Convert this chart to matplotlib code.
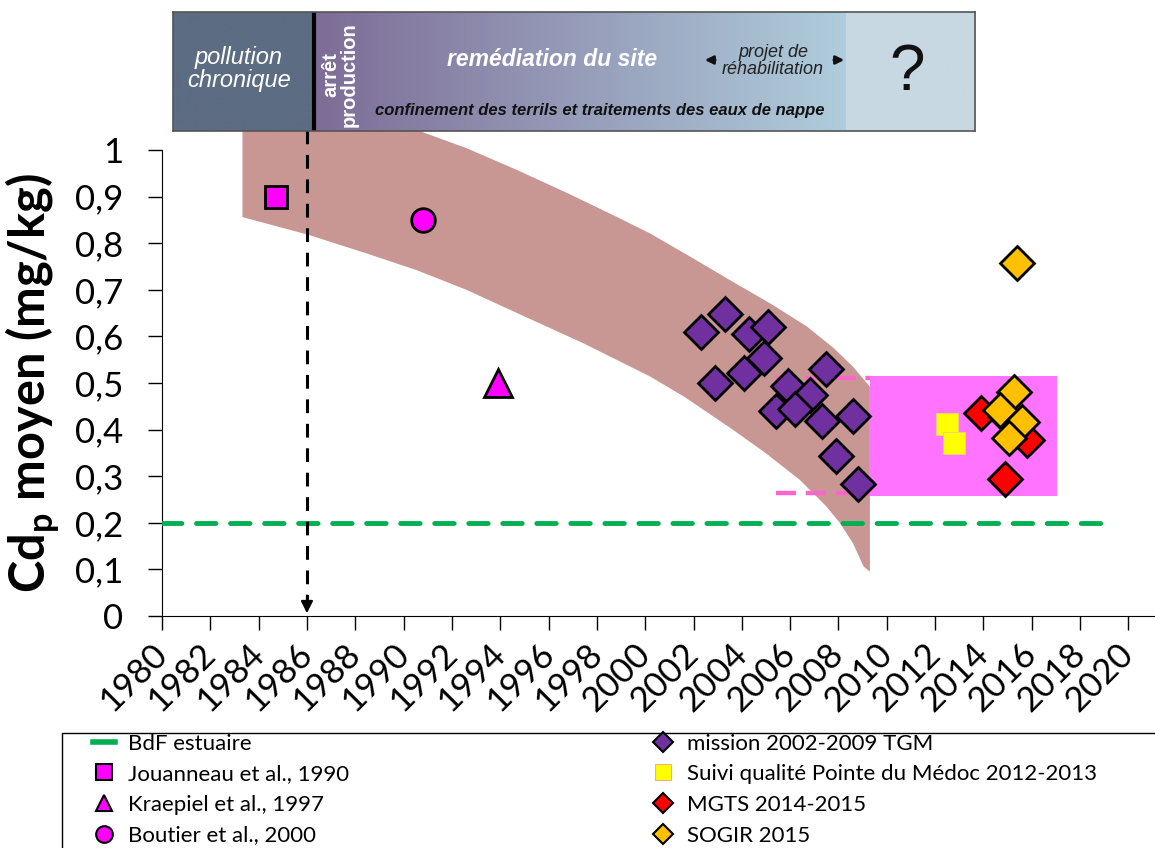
import numpy as np
import matplotlib
matplotlib.use("Agg")
import matplotlib.pyplot as plt
from matplotlib.lines import Line2D
from matplotlib.patches import Rectangle
from matplotlib import font_manager

# Fonts
names = {f.name for f in font_manager.fontManager.ttflist}
body_font = "Lato" if "Lato" in names else "DejaVu Sans"
band_font = "Liberation Sans"
plt.rcParams['font.family'] = [body_font, 'DejaVu Sans']

W, H = 1155, 848

# Data (year, Cd_p mg/kg)
jouanneau_year = [1984.7]
jouanneau_val = [0.90]
kraepiel_year = [1993.9]
kraepiel_val = [0.50]
boutier_year = [1990.8]
boutier_val = [0.85]

mission_year = [2002.3, 2003.3, 2004.3, 2005.1, 2004.9, 2004.1, 2002.9, 2007.5,
                2005.9, 2006.8, 2005.4, 2006.2, 2007.3, 2008.6, 2007.9, 2008.8]
mission_val = [0.61, 0.647, 0.605, 0.621, 0.554, 0.521, 0.50, 0.531,
               0.494, 0.474, 0.44, 0.444, 0.419, 0.429, 0.344, 0.283]

suivi_year = [2012.5, 2012.8]
suivi_val = [0.413, 0.372]

mgts_year = [2013.9, 2015.8, 2014.9]
mgts_val = [0.436, 0.378, 0.295]

sogir_year = [2015.4, 2014.95, 2015.25, 2014.7, 2015.6, 2015.05]
sogir_val = [0.757, 0.428, 0.481, 0.442, 0.417, 0.381]

bdf_level = 0.2
bdf_years = [1980, 2019.2]

arret_year = 1986

# trend band (upper and lower edges)
band_upper_year = [1983.33, 1985.5, 1988.0, 1990.7, 1992.6, 1994.7, 1996.8, 1998.8,
                   2000.2, 2002.0, 2003.5, 2005.2, 2006.7, 2007.8, 2008.6, 2009.3]
band_upper_val = [1.17, 1.135, 1.09, 1.04, 1.004, 0.957, 0.907, 0.857,
                  0.821, 0.767, 0.721, 0.670, 0.621, 0.575, 0.535, 0.492]
band_lower_year = [1983.33, 1986.06, 1988.47, 1990.55, 1992.6, 1994.7, 1997.45, 2000.2,
                   2001.6, 2003.65, 2005.0, 2006.4, 2007.5, 2008.07, 2008.6, 2009.04, 2009.3]
band_lower_val = [0.856, 0.818, 0.778, 0.742, 0.70, 0.65, 0.585, 0.514,
                  0.471, 0.399, 0.349, 0.292, 0.235, 0.199, 0.156, 0.106, 0.095]

# recent range box
range_years = [2009.3, 2017.05]
range_low, range_high = 0.258, 0.516
range_dash_years = [2005.4, 2009.3]
range_dash_vals = [0.51, 0.265]

fig = plt.figure(figsize=(W / 100, H / 100), dpi=100)
ax = fig.add_axes([162 / W, 1 - 616 / H, 1 - 162 / W, 466 / H])

# band
bx = band_upper_year + band_lower_year[::-1]
by = band_upper_val + band_lower_val[::-1]
ax.fill(bx, by, color='#c89794', lw=0, zorder=1, clip_on=False)

# pink range
ax.fill_between(range_years, range_low, range_high, color='#ff73ff', lw=0, zorder=2)
for v in range_dash_vals:
    ax.plot(range_dash_years, [v, v], color='#ff66cc', lw=3.2, dashes=(4.5, 2.2), zorder=2)

# BdF line
ax.plot(bdf_years, [bdf_level, bdf_level], color='#00b050', lw=3.5,
        dashes=(4, 3), dash_capstyle='round', zorder=3)

# arrow at end of production
ax.plot([arret_year, arret_year], [1.043, 0.03], color='black', lw=2.2,
        dashes=(4.5, 3.5), zorder=3, clip_on=False)
ax.annotate('', xy=(arret_year, 0.0), xytext=(arret_year, 0.05),
            arrowprops=dict(arrowstyle='-|>', color='black', lw=1.5, mutation_scale=18),
            zorder=3)

mk = dict(linestyle='none', markeredgecolor='black', markeredgewidth=2, zorder=5)
ax.plot(jouanneau_year, jouanneau_val, marker='s', ms=16, color='#ff00ff', **mk)
ax.plot(boutier_year, boutier_val, marker='o', ms=17, color='#ff00ff', **mk)
ax.plot(kraepiel_year, kraepiel_val, marker='^', ms=20, color='#ff00ff', **mk)
ax.plot(mission_year, mission_val, marker='D', ms=17, color='#7030a0', **mk)
ax.plot(suivi_year, suivi_val, marker='s', ms=16, linestyle='none', color='#ffff00',
        markeredgecolor='#f0d080', markeredgewidth=0.6, zorder=5)
ax.plot(mgts_year, mgts_val, marker='D', ms=17, color='#ff0000', **mk)
ax.plot(sogir_year, sogir_val, marker='D', ms=17, color='#ffc000', **mk)

# axes styling
ax.set_xlim(1980, 2021.1)
ax.set_ylim(0, 1)
ax.set_xticks(range(1980, 2021, 2))
ax.set_yticks(np.arange(0, 1.01, 0.1))
ax.set_yticklabels(['0'] + ['0,%d' % i for i in range(1, 10)] + ['1'])
ax.spines['top'].set_visible(False)
ax.spines['right'].set_visible(False)
ax.tick_params(axis='both', direction='out', length=10, width=1, labelsize=25)
ax.tick_params(axis='y', pad=18)
ax.tick_params(axis='x', pad=14)
for lab in ax.get_xticklabels():
    lab.set_rotation(45)
    lab.set_ha('right')
    lab.set_va('center')
    lab.set_rotation_mode('anchor')
ax.set_ylabel(r'Cd$_\mathregular{p}$ moyen (mg/kg)', fontsize=35, fontweight='bold')
ax.yaxis.set_label_coords(-0.1005, 0.5)

# timeline banner
bax = fig.add_axes([173 / W, 1 - 131 / H, 802 / W, 119 / H])
n = 802
img = np.zeros((1, n, 3))
dark = np.array([92, 108, 130]) / 255
purp = np.array([125, 108, 150]) / 255
blue = np.array([175, 205, 220]) / 255
light = np.array([200, 216, 226]) / 255
line_at = 312 - 173
grad_end = 845 - 173
img[0, :line_at] = dark
t = np.linspace(0, 1, grad_end - line_at)[:, None]
img[0, line_at:grad_end] = purp * (1 - t) + blue * t
img[0, grad_end:] = light
bax.imshow(img, aspect='auto', extent=(0, n, 119, 0))
bax.axvline(line_at + 1.5, color='black', lw=3)
bax.set_xlim(0, n)
bax.set_ylim(119, 0)
bax.set_xticks([])
bax.set_yticks([])
for s in bax.spines.values():
    s.set_color('#555555')
    s.set_linewidth(1.2)

bt = dict(family=[band_font, 'DejaVu Sans'])
bax.text(239 - 173, 69 - 12, 'pollution\nchronique', color='white', fontsize=17,
         fontstyle='italic', ha='center', va='center', linespacing=1.0, **bt)
bax.text(340 - 173, 75 - 12, 'arrêt\nproduction', color='white', fontsize=14.5,
         fontweight='bold', rotation=90, ha='center', va='center', linespacing=0.95, **bt)
bax.text(552 - 173, 60 - 12, 'remédiation du site', color='white', fontsize=16.5,
         fontstyle='italic', fontweight='bold', ha='center', va='center', **bt)
bax.text(773 - 173, 61 - 12, 'projet de\nréhabilitation', color='#222222', fontsize=13,
         fontstyle='italic', ha='center', va='center', linespacing=1.0, **bt)
bax.annotate('', xy=(702 - 173, 60 - 12), xytext=(718 - 173, 60 - 12),
             arrowprops=dict(arrowstyle='-|>', color='#111111', lw=2, mutation_scale=12))
bax.annotate('', xy=(847 - 173, 60 - 12), xytext=(831 - 173, 60 - 12),
             arrowprops=dict(arrowstyle='-|>', color='#111111', lw=2, mutation_scale=12))
bax.text(600 - 173, 111 - 12, 'confinement des terrils et traitements des eaux de nappe',
         color='#111111', fontsize=12, fontstyle='italic', fontweight='bold',
         ha='center', va='center', **bt)
bax.text(907 - 173, 73 - 12, '?', color='#111111', fontsize=46, ha='center', va='center', **bt)

# legend
lm = dict(linestyle='none', markeredgecolor='black', markeredgewidth=1.5)
handles = [
    Line2D([], [], color='#00b050', lw=4),
    Line2D([], [], marker='s', ms=11, color='#ff00ff', **lm),
    Line2D([], [], marker='^', ms=12, color='#ff00ff', **lm),
    Line2D([], [], marker='o', ms=12, color='#ff00ff', **lm),
    Line2D([], [], marker='D', ms=10, color='#7030a0', **lm),
    Line2D([], [], marker='s', ms=11, linestyle='none', color='#ffff00',
           markeredgecolor='#f0b080', markeredgewidth=0.8),
    Line2D([], [], marker='D', ms=10, color='#ff0000', **lm),
    Line2D([], [], marker='D', ms=10, color='#ffc000', **lm),
]
labels = ['BdF estuaire', 'Jouanneau et al., 1990', 'Kraepiel et al., 1997',
          'Boutier et al., 2000', 'mission 2002-2009 TGM',
          'Suivi qualité Pointe du Médoc 2012-2013', 'MGTS 2014-2015', 'SOGIR 2015']
fig.legend(handles, labels, loc='upper left', bbox_to_anchor=(77 / W, 1 - 718 / H),
           ncol=2, frameon=False, fontsize=16, handlelength=1.0, handletextpad=0.6,
           columnspacing=13.6, labelspacing=0.48, borderpad=0.2)
fig.add_artist(Rectangle((62 / W, -0.05), 1.0, 0.05 + (848 - 733) / H,
                         transform=fig.transFigure, fill=False, ec='black', lw=1))

fig.savefig("out.png", dpi=100)
